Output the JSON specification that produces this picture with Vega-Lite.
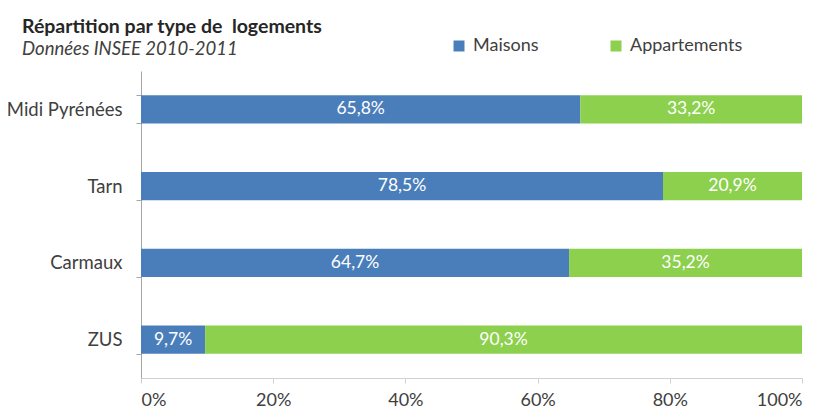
{
  "$schema": "https://vega.github.io/schema/vega-lite/v6.json",
  "width": 661,
  "height": 307,
  "autosize": {"type": "none"},
  "padding": {"left": 141, "top": 71, "right": 25, "bottom": 34},
  "background": "white",
  "config": {
    "font": "Lato",
    "view": {"stroke": null},
    "locale": {"number": {"decimal": ",", "thousands": " ", "grouping": [3], "currency": ["", " €"]}}
  },
  "title": {
    "text": "Répartition par type de \u00a0logements",
    "subtitle": "Données INSEE 2010-2011",
    "anchor": "start",
    "frame": "group",
    "dx": -119,
    "dy": 36,
    "fontSize": 19.5,
    "fontWeight": "bold",
    "color": "#262626",
    "subtitleFontSize": 18.5,
    "subtitleFontStyle": "italic",
    "subtitleColor": "#404040",
    "subtitlePadding": 2,
    "offset": 14
  },
  "data": {
    "values": [
      {"region": "Midi Pyrénées", "type": "Maisons", "value": 0.658},
      {"region": "Midi Pyrénées", "type": "Appartements", "value": 0.332},
      {"region": "Tarn", "type": "Maisons", "value": 0.785},
      {"region": "Tarn", "type": "Appartements", "value": 0.209},
      {"region": "Carmaux", "type": "Maisons", "value": 0.647},
      {"region": "Carmaux", "type": "Appartements", "value": 0.352},
      {"region": "ZUS", "type": "Maisons", "value": 0.097},
      {"region": "ZUS", "type": "Appartements", "value": 0.903}
    ]
  },
  "transform": [
    {"stack": "value", "groupby": ["region"], "offset": "normalize", "sort": [{"field": "type", "order": "descending"}], "as": ["v0", "v1"]},
    {"calculate": "(datum.v0 + datum.v1) / 2", "as": "mid"}
  ],
  "encoding": {
    "y": {
      "field": "region",
      "type": "nominal",
      "sort": null,
      "title": null,
      "scale": {"paddingInner": 0.635, "paddingOuter": 0.3175},
      "axis": {
        "domainColor": "#a6a6a6",
        "tickColor": "#a6a6a6",
        "tickBand": "extent",
        "tickSize": 5,
        "labelFontSize": 18.5,
        "labelColor": "#404040",
        "labelPadding": 14,
        "labelLimit": 200
      }
    }
  },
  "layer": [
    {
      "mark": {"type": "bar"},
      "encoding": {
        "x": {
          "field": "v0",
          "type": "quantitative",
          "scale": {"domain": [0, 1], "nice": false},
          "title": null,
          "axis": {
            "format": ".0%",
            "values": [0, 0.2, 0.4, 0.6, 0.8, 1],
            "grid": false,
            "domainColor": "#d0d0d0",
            "tickColor": "#d0d0d0",
            "tickSize": 5,
            "labelFontSize": 18,
            "labelColor": "#404040",
            "labelPadding": 8
          }
        },
        "x2": {"field": "v1"},
        "color": {
          "field": "type",
          "type": "nominal",
          "scale": {"domain": ["Maisons", "Appartements"], "range": ["#4a7ebb", "#8cd04e"]},
          "legend": {
            "orient": "none",
            "direction": "horizontal",
            "legendX": 309,
            "legendY": -34,
            "title": null,
            "symbolType": "square",
            "symbolSize": 121,
            "symbolStrokeWidth": 0,
            "labelFontSize": 18,
            "labelColor": "#404040",
            "columnPadding": 68,
            "labelOffset": 5
          }
        }
      }
    },
    {
      "mark": {"type": "text", "color": "white", "fontSize": 17.5, "align": "center", "baseline": "middle"},
      "encoding": {
        "x": {"field": "mid", "type": "quantitative"},
        "text": {"field": "value", "type": "quantitative", "format": ".1%"}
      }
    }
  ]
}
